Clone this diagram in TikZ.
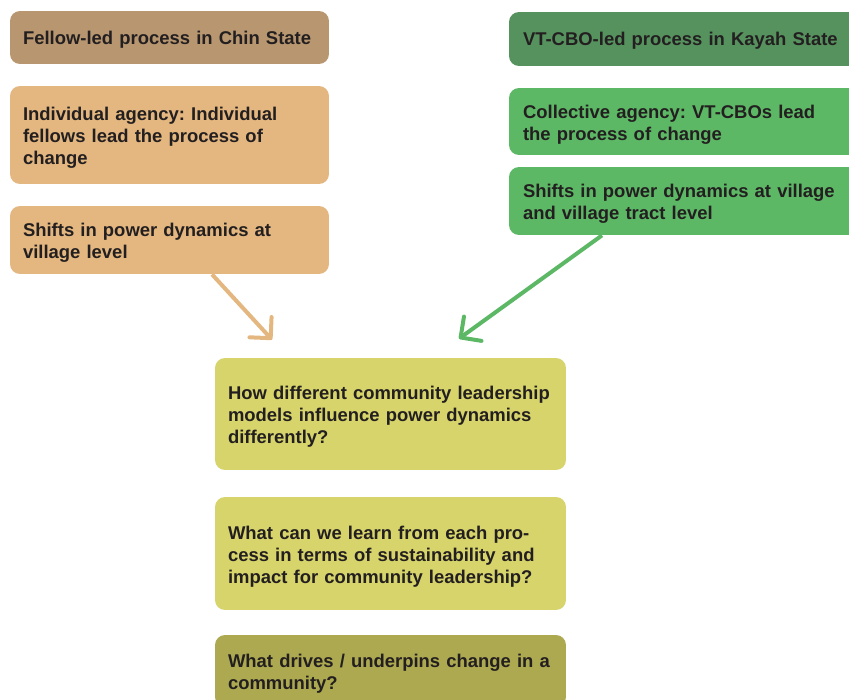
\documentclass[tikz,border=0pt]{standalone}
\usepackage{fontspec}
\setmainfont{Liberation Sans}
\usetikzlibrary{arrows.meta}
\frenchspacing

\definecolor{chinhead}{HTML}{B89770}
\definecolor{chinbox}{HTML}{E3B77F}
\definecolor{kayahhead}{HTML}{56925E}
\definecolor{kayahbox}{HTML}{5DB866}
\definecolor{questbox}{HTML}{D6D46A}
\definecolor{drivebox}{HTML}{ADA950}
\definecolor{textgrey}{HTML}{231F20}
\newcommand\boxtail{\endgraf\kern-3.6pt}

\begin{document}
\begin{tikzpicture}[x=0.02cm,y=-0.02cm]
	\useasboundingbox (0,0) rectangle (849,700);
	\clip (0,0) rectangle (849,700);
	\begin{scope}[every node/.style={rounded corners=0.2cm,inner xsep=0.26cm,inner ysep=0pt,align=left,text=textgrey,font=\bfseries\fontsize{10.5}{12.5}\selectfont,execute at end node=\boxtail}]
	% Chin State column
	\node[fill=chinhead,minimum width=6.38cm,minimum height=1.06cm,text width=5.86cm] (chin) at (169.5,37.5) {Fellow-led process in Chin State};
	\node[fill=chinbox,minimum width=6.38cm,minimum height=1.96cm,text width=5.86cm] (chinagency) at (169.5,135) {Individual agency: Individual\\fellows lead the process of\\change};
	\node[fill=chinbox,minimum width=6.38cm,minimum height=1.36cm,text width=5.86cm] (chinshift) at (169.5,240) {Shifts in power dynamics at\\village level};
	% Kayah State column
	\node[fill=kayahhead,inner xsep=0.28cm,minimum width=7.2cm,minimum height=1.08cm,text width=6.64cm] (kayah) at (689,39) {VT-CBO-led process in Kayah State};
	\node[fill=kayahbox,inner xsep=0.28cm,minimum width=7.2cm,minimum height=1.34cm,text width=6.64cm] (kayahagency) at (689,121.5) {Collective agency: VT-CBOs lead\\the process of change};
	\node[fill=kayahbox,inner xsep=0.28cm,minimum width=7.2cm,minimum height=1.36cm,text width=6.64cm] (kayahshift) at (689,201) {Shifts in power dynamics at village\\and village tract level};
	% questions
	\node[fill=questbox,minimum width=7.02cm,minimum height=2.24cm,text width=6.5cm] (how) at (390.5,414) {How different community leadership\\models influence power dynamics\\differently?};
	\node[fill=questbox,minimum width=7.02cm,minimum height=2.26cm,text width=6.5cm] (learn) at (390.5,553.5) {What can we learn from each pro-\\cess in terms of sustainability and\\impact for community leadership?};
	\node[fill=drivebox,minimum width=7.02cm,minimum height=1.44cm,text width=6.5cm] (drive) at (390.5,671) {What drives / underpins change in a\\community?};
	\end{scope}
	\coordinate (chintip) at ([xshift=-2.37cm,yshift=0.36cm]how.north);
	\coordinate (kayahtip) at ([xshift=1.37cm,yshift=0.38cm]how.north);
	\draw [chinbox,line width=0.08cm,-{Straight Barb[length=0.3cm,width=0.6cm,round]}] ([xshift=0.85cm]chinshift.south) -- (chintip);
	\draw [kayahbox,line width=0.08cm,-{Straight Barb[length=0.3cm,width=0.6cm,round]}] ([xshift=-1.74cm]kayahshift.south) -- (kayahtip);
\end{tikzpicture}
\end{document}
